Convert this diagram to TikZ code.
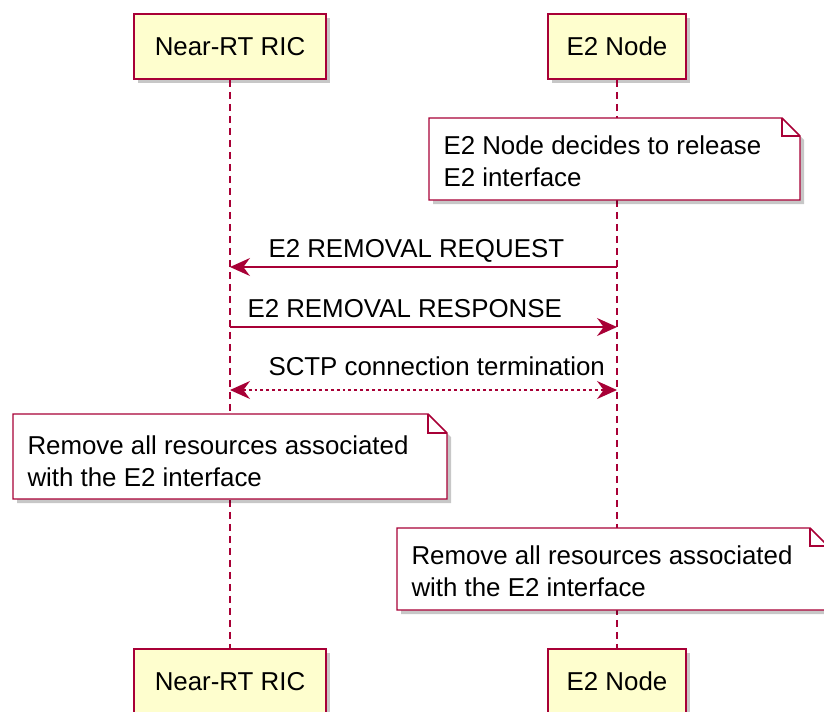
\documentclass[tikz,border=0pt]{standalone}
\usepackage{fontspec}
\setmainfont{Liberation Sans}
\usetikzlibrary{arrows.meta,shadows}

\definecolor{umlred}{HTML}{A80036}
\definecolor{umlbox}{HTML}{FEFECE}

\tikzset{every picture/.style={line width=0.75pt}}
\tikzset{
  umltip/.tip={Stealth[length=15pt,width=13.5pt,inset=5pt]},
  umlfont/.style={font=\fontsize{19.4}{24}\selectfont},
  umlshadow/.style={drop shadow={shadow xshift=3pt, shadow yshift=-3pt, fill=black, opacity=0.22}},
  actor/.style={draw=umlred, fill=umlbox, line width=1.4pt, minimum height=48.75pt, inner sep=0pt, umlfont, umlshadow},
  lifeline/.style={draw=umlred, line width=1pt, dash pattern=on 5pt off 4pt},
  msg/.style={draw=umlred, line width=1.1pt, -umltip},
  sctp/.style={draw=umlred, line width=1.1pt, umltip-umltip, dash pattern=on 2.2pt off 2.2pt},
  msgtext/.style={anchor=base west, inner sep=0pt, umlfont},
  notebox/.style={draw=umlred, fill=white, line width=1.1pt, umlshadow},
  notefold/.style={draw=umlred, line width=1.1pt},
  notetext/.style={anchor=north west, inner sep=0pt, align=left, umlfont},
}

\begin{document}
\begin{tikzpicture}[x=0.75pt,y=0.75pt,yscale=-1]
\useasboundingbox (0,0) rectangle (824,711);

% Participants
\node[actor, minimum width=144pt] (ricTop) at (230,46.5) {Near-RT RIC};
\node[actor, minimum width=103.5pt] (e2Top) at (617,46.5) {E2 Node};
\node[actor, minimum width=144pt] (ricBot) at (230,681.5) {Near-RT RIC};
\node[actor, minimum width=103.5pt] (e2Bot) at (617,681.5) {E2 Node};

% Lifelines
\draw[lifeline] (ricTop) -- (ricBot);
\draw[lifeline] (e2Top) -- (e2Bot);

% Note over E2 Node
\draw[notebox] (429,118) -- (782,118) -- (800,136) -- (800,200) -- (429,200) -- cycle;
\draw[notefold] (782,118) -- (782,136) -- (800,136);
\node[notetext] (releaseNote) at (443,135) {E2 Node decides to release\\E2 interface};

% Messages
\coordinate (reqE2) at (617,267);
\coordinate (reqRic) at (230,267);
\draw[msg] (reqE2) -- (reqRic);
\node[msgtext] (reqLabel) at (268,257) {E2 REMOVAL REQUEST};

\coordinate (rspRic) at (230,327);
\coordinate (rspE2) at (617,327);
\draw[msg] (rspRic) -- (rspE2);
\node[msgtext] (rspLabel) at (247,317) {E2 REMOVAL RESPONSE};

\coordinate (sctpRic) at (230,390);
\coordinate (sctpE2) at (617,390);
\draw[sctp] (sctpRic) -- (sctpE2);
\node[msgtext] (sctpLabel) at (268,375) {SCTP connection termination};

% Note over Near-RT RIC
\draw[notebox] (13,414) -- (428,414) -- (447,433) -- (447,499) -- (13,499) -- cycle;
\draw[notefold] (428,414) -- (428,433) -- (447,433);
\node[notetext] (ricNote) at (27,435) {Remove all resources associated\\with the E2 interface};

% Note over E2 Node
\draw[notebox] (397,528) -- (810,528) -- (828,546) -- (828,610) -- (397,610) -- cycle;
\draw[notefold] (810,528) -- (810,546) -- (828,546);
\node[notetext] (e2Note) at (411,545) {Remove all resources associated\\with the E2 interface};
\end{tikzpicture}
\end{document}
